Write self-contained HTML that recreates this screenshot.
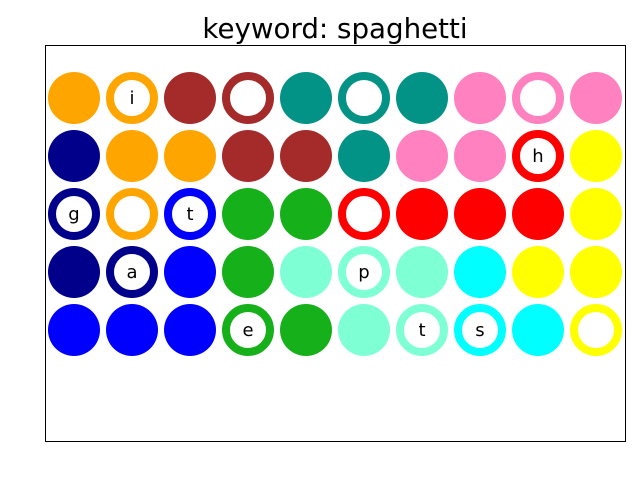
<!DOCTYPE html>
<html><head><meta charset="utf-8"><style>
body{margin:0;background:#fff;width:640px;height:480px;overflow:hidden}
svg{display:block}
</style></head><body>
<svg id="chart" width="640" height="480" xmlns="http://www.w3.org/2000/svg">
<text x="335" y="38" text-anchor="middle" font-family="DejaVu Sans, Liberation Sans, sans-serif" font-size="27.7">keyword: spaghetti</text>
<rect x="45.5" y="45.5" width="580" height="396" fill="none" stroke="#000" stroke-width="1"/>
<g id="cells"></g>
</svg>
<script>
const colorNames = [
 ["orange","orange","brown","brown","teal","teal","teal","pink","pink","pink"],
 ["navy","orange","orange","brown","brown","teal","pink","pink","red","yellow"],
 ["navy","orange","blue","green","green","red","red","red","red","yellow"],
 ["navy","navy","blue","green","aqua","aqua","aqua","cyan","yellow","yellow"],
 ["blue","blue","blue","green","green","aqua","aqua","cyan","cyan","yellow"]
];
const ringFlags = [
 [0,1,0,1,0,1,0,0,1,0],
 [0,0,0,0,0,0,0,0,1,0],
 [1,1,1,0,0,1,0,0,0,0],
 [0,1,0,0,0,1,0,0,0,0],
 [0,0,0,1,0,0,1,1,0,1]
];
const letters = [
 ["","i","","","","","","","",""],
 ["","","","","","","","","h",""],
 ["g","","t","","","","","","",""],
 ["","a","","","","p","","","",""],
 ["","","","e","","","t","s","",""]
];
const palette = {orange:"#FFA500",brown:"#A52A2A",teal:"#029386",pink:"#FF81C0",navy:"#00008B",blue:"#0000FF",green:"#15B01A",aqua:"#7FFFD4",cyan:"#00FFFF",red:"#FF0000",yellow:"#FFFF00"};
const xPos = c => 74 + c*58;
const yPos = r => 98 + r*58;
const g = document.getElementById('cells');
const NS = "http://www.w3.org/2000/svg";
colorNames.forEach((row, r) => row.forEach((name, c) => {
  const col = palette[name];
  const circ = document.createElementNS(NS, 'circle');
  
  
  const ring = ringFlags[r][c];
  circ.setAttribute('cx', xPos(c));
  circ.setAttribute('cy', yPos(r));
  if (ring) {
    circ.setAttribute('r', 22);
    circ.setAttribute('fill', '#fff');
    circ.setAttribute('stroke', col);
    circ.setAttribute('stroke-width', 8);
  } else {
    circ.setAttribute('r', 26);
    circ.setAttribute('fill', col);
  }
  g.appendChild(circ);
  const L = letters[r][c];
  if (L) {
    const t = document.createElementNS(NS, 'text');
    
    
    t.setAttribute('x', xPos(c));
    t.setAttribute('y', yPos(r) + 6);
    t.setAttribute('text-anchor', 'middle');
    t.setAttribute('font-family', 'DejaVu Sans, Liberation Sans, sans-serif');
    t.setAttribute('font-size', '18');
    t.textContent = L;
    g.appendChild(t);
  }
}));
</script>
</body></html>
